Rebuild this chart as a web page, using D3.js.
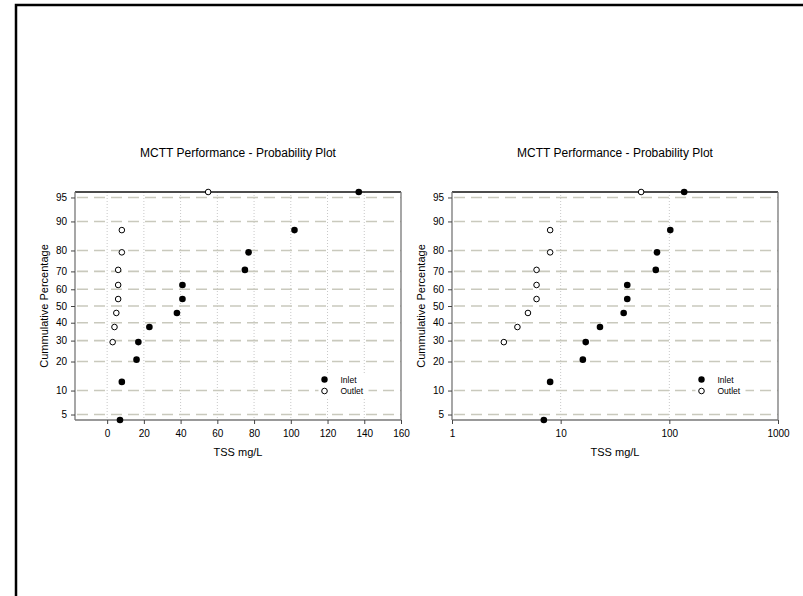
<!DOCTYPE html>
<html>
<head>
<meta charset="utf-8">
<script src="https://cdn.jsdelivr.net/npm/d3@7"></script>
<style>
  html, body { margin: 0; padding: 0; background: #fff; }
  svg { display: block; }
  text { font-family: "Liberation Sans", Arial, sans-serif; fill: #000; }
</style>
</head>
<body>
<svg id="chart" width="803" height="596"></svg>
<script>
// Cumulative plotting positions (%) shared by both series
const percentiles = [4.2, 12.5, 20.8, 29.2, 37.5, 45.8, 54.2, 62.5, 70.8, 79.2, 87.5, 95.8];
// TSS concentrations (mg/L), sorted ascending
const inletTSS  = [7, 8, 16, 17, 23, 38, 41, 41, 75, 77, 102, 137];
const outletTSS = [null, null, null, 3, 4, 5, 6, 6, 6, 8, 8, 55];
// Axis ticks
const yTicks = [5, 10, 20, 30, 40, 50, 60, 70, 80, 90, 95];
const xTicksLinear = [0, 20, 40, 60, 80, 100, 120, 140, 160];
const xTicksLog = [1, 10, 100, 1000];
const xDomainLinear = [-17.5, 160];
const xDomainLog = [1, 1000];
const titleText = "MCTT Performance - Probability Plot";
const xLabel = "TSS mg/L";
const yLabel = "Cummulative Percentage";
const seriesNames = ["Inlet", "Outlet"];

// Inverse standard normal CDF (Acklam's rational approximation)
function probit(p) {
  const a = [-3.969683028665376e+01, 2.209460984245205e+02, -2.759285104469687e+02,
             1.383577518672690e+02, -3.066479806614716e+01, 2.506628277459239e+00];
  const b = [-5.447609879822406e+01, 1.615858368580409e+02, -1.556989798598866e+02,
             6.680131188771972e+01, -1.328068155288572e+01];
  const c = [-7.784894002430293e-03, -3.223964580411365e-01, -2.400758277161838e+00,
             -2.549732539343734e+00, 4.374664141464968e+00, 2.938163982698783e+00];
  const d = [7.784695709041462e-03, 3.224671290700398e-01, 2.445134137142996e+00,
             3.754408661907416e+00];
  const pl = 0.02425, ph = 1 - pl;
  let q, r;
  if (p < pl) {
    q = Math.sqrt(-2 * Math.log(p));
    return (((((c[0]*q+c[1])*q+c[2])*q+c[3])*q+c[4])*q+c[5]) /
           ((((d[0]*q+d[1])*q+d[2])*q+d[3])*q+1);
  }
  if (p <= ph) {
    q = p - 0.5; r = q * q;
    return (((((a[0]*r+a[1])*r+a[2])*r+a[3])*r+a[4])*r+a[5])*q /
           (((((b[0]*r+b[1])*r+b[2])*r+b[3])*r+b[4])*r+1);
  }
  q = Math.sqrt(-2 * Math.log(1 - p));
  return -(((((c[0]*q+c[1])*q+c[2])*q+c[3])*q+c[4])*q+c[5]) /
          ((((d[0]*q+d[1])*q+d[2])*q+d[3])*q+1);
}

// Probability scale: percent -> normal score -> pixel
function probabilityScale(domainPct, range) {
  const lin = d3.scaleLinear()
    .domain(domainPct.map(p => probit(p / 100)))
    .range(range);
  const s = p => lin(probit(p / 100));
  s.range = () => lin.range();
  s.domain = () => domainPct.slice();
  s.copy = () => probabilityScale(domainPct, range);
  return s;
}

const svg = d3.select("#chart");
svg.append("rect").attr("width", 803).attr("height", 596).attr("fill", "#fff");

// Outer frame (left and top edges visible)
svg.append("path")
  .attr("d", "M16,596 L16,5 L803,5")
  .attr("fill", "none")
  .attr("stroke", "#000")
  .attr("stroke-width", 2.5);

const panelTop = 192, panelBottom = 420, panelWidth = 326;

function drawPanel(left, xScale, xTicks, xGridTicks, xFormat) {
  const right = left + panelWidth;
  const g = svg.append("g");
  const y = probabilityScale([percentiles[0], percentiles[percentiles.length - 1]],
                             [panelBottom, panelTop]);

  // Title
  g.append("text")
    .attr("x", (left + right) / 2).attr("y", 157)
    .attr("text-anchor", "middle")
    .style("font-size", "12px")
    .text(titleText);

  // Vertical dotted grid
  g.selectAll(".vgrid").data(xGridTicks).enter().append("line")
    .attr("x1", d => xScale(d)).attr("x2", d => xScale(d))
    .attr("y1", panelTop).attr("y2", panelBottom)
    .attr("stroke", "#c8c8c8").attr("stroke-width", 1)
    .attr("stroke-dasharray", "1,2");

  // Horizontal dashed grid
  g.selectAll(".hgrid").data(yTicks).enter().append("line")
    .attr("x1", left + 2).attr("x2", right)
    .attr("y1", d => y(d)).attr("y2", d => y(d))
    .attr("stroke", "#c9c9bd").attr("stroke-width", 1.6)
    .attr("stroke-dasharray", "11,6");

  // Frame: top and right
  g.append("line").attr("x1", left).attr("x2", right)
    .attr("y1", panelTop).attr("y2", panelTop)
    .attr("stroke", "#111").attr("stroke-width", 1.3);
  g.append("line").attr("x1", right).attr("x2", right)
    .attr("y1", panelTop).attr("y2", panelBottom)
    .attr("stroke", "#777").attr("stroke-width", 1.3);

  // Axes
  const yAxis = d3.axisLeft(y).tickValues(yTicks).tickSize(4).tickPadding(4)
    .tickFormat(d => d);
  const ya = g.append("g").attr("transform", `translate(${left},0)`).call(yAxis);
  const xAxis = d3.axisBottom(xScale).tickValues(xTicks).tickSize(4).tickPadding(6)
    .tickFormat(xFormat);
  const xa = g.append("g").attr("transform", `translate(0,${panelBottom})`).call(xAxis);
  [ya, xa].forEach(a => {
    a.select(".domain").attr("stroke", "#777").attr("stroke-width", 1.3);
    a.selectAll(".tick line").attr("stroke", "#444");
    a.selectAll(".tick text").style("font-size", "10px")
      .style("font-family", '"Liberation Sans", Arial, sans-serif').attr("fill", "#000");
  });
  ya.select(".domain").attr("d", `M0,${panelTop}V${panelBottom}`);
  xa.select(".domain").attr("d", `M${left},0H${right}`);

  // Axis titles
  g.append("text")
    .attr("x", (left + right) / 2).attr("y", 455.5)
    .attr("text-anchor", "middle")
    .style("font-size", "11px")
    .text(xLabel);
  g.append("text")
    .attr("transform", `translate(${left - 27.5},${(panelTop + panelBottom) / 2}) rotate(-90)`)
    .attr("text-anchor", "middle")
    .style("font-size", "11px")
    .text(yLabel);

  // Legend
  const lx = left + 249.5;
  g.append("rect").attr("x", lx - 6).attr("y", 373).attr("width", 50).attr("height", 24)
    .attr("fill", "#fff");
  g.append("circle").attr("cx", lx).attr("cy", 379.5).attr("r", 3.2).attr("fill", "#000");
  g.append("circle").attr("cx", lx).attr("cy", 391).attr("r", 2.8)
    .attr("fill", "#fff").attr("stroke", "#000").attr("stroke-width", 1);
  g.append("text").attr("x", lx + 16).attr("y", 382.5).style("font-size", "8.5px")
    .text(seriesNames[0]);
  g.append("text").attr("x", lx + 16).attr("y", 394).style("font-size", "8.5px")
    .text(seriesNames[1]);

  // Points
  const outletPts = percentiles.map((p, i) => ({ p, v: outletTSS[i] })).filter(d => d.v != null);
  const inletPts = percentiles.map((p, i) => ({ p, v: inletTSS[i] }));
  g.selectAll(".outlet").data(outletPts).enter().append("circle")
    .attr("cx", d => xScale(d.v)).attr("cy", d => y(d.p)).attr("r", 2.8)
    .attr("fill", "#fff").attr("stroke", "#000").attr("stroke-width", 1);
  g.selectAll(".inlet").data(inletPts).enter().append("circle")
    .attr("cx", d => xScale(d.v)).attr("cy", d => y(d.p)).attr("r", 3.3)
    .attr("fill", "#000");
}

// Linear TSS panel
const xLin = d3.scaleLinear().domain(xDomainLinear).range([75, 75 + panelWidth]);
drawPanel(75, xLin, xTicksLinear, xTicksLinear.slice(0, -1), d => d);

// Logarithmic TSS panel
const xLog = d3.scaleLog().domain(xDomainLog).range([452, 452 + panelWidth]);
drawPanel(452, xLog, xTicksLog, xTicksLog.slice(1, -1), d => d);
</script>
</body>
</html>
